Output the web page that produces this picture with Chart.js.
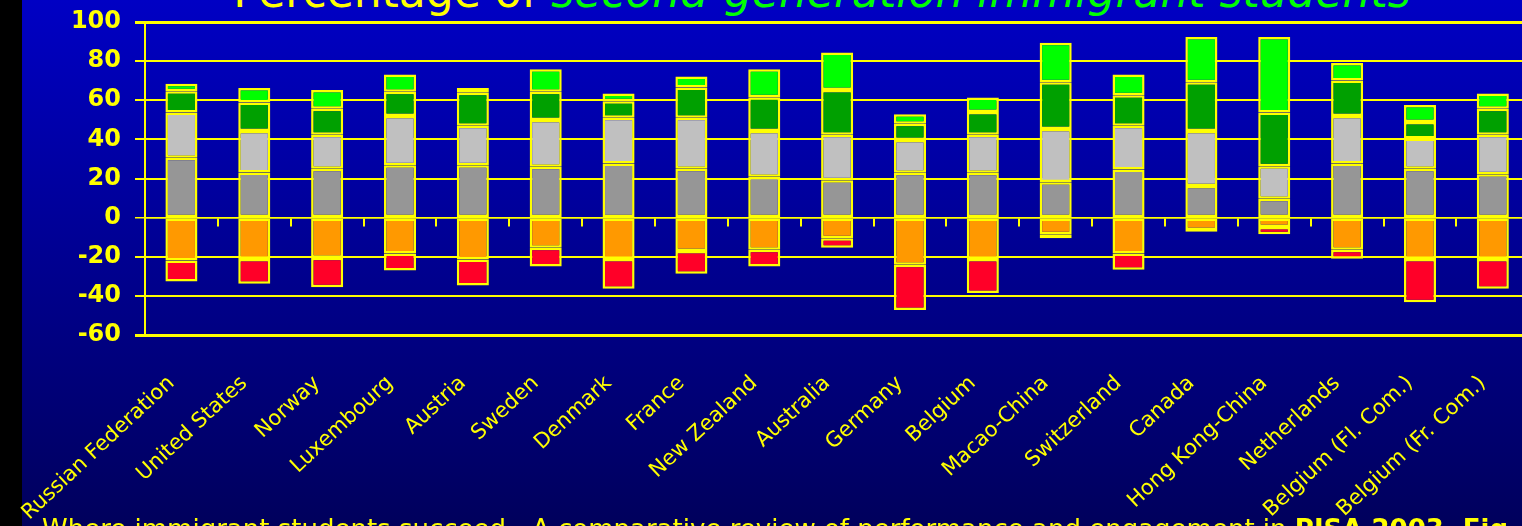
<!DOCTYPE html>
<html>
<head>
<meta charset="utf-8">
<script src="https://cdn.jsdelivr.net/npm/chart.js@4.4.0/dist/chart.umd.min.js"></script>
<style>
  html, body { margin: 0; padding: 0; width: 1522px; height: 526px; overflow: hidden; background: #000; }
  #bg { position: absolute; left: 22px; top: 0; width: 1520px; height: 526px; background: linear-gradient(#0000c4, #00005c); }
  #wrap { position: absolute; left: 0; top: 0; width: 1538px; height: 526px; }
  .title { position: absolute; left: 22px; width: 1600px; top: -30px; text-align: center; white-space: nowrap;
           font: 44px/1 'Comic Sans MS', 'DejaVu Sans', sans-serif; color: #ffff00; }
  .title i { color: #00ff00; }
  .source { position: absolute; left: 42px; top: 516px; white-space: nowrap;
            font: 26px/1 'Comic Sans MS', 'DejaVu Sans', sans-serif; color: #ffff00; }
</style>
</head>
<body>
<div id="bg"></div>
<div class="title">Percentage of <i>second-generation immigrant students</i></div>
<div id="wrap"><canvas id="barChart"></canvas></div>
<div class="source">Where immigrant students succeed - A comparative review of performance and engagement in <b>PISA 2003, Fig</b></div>
<script>
var countries = ['Russian Federation', 'United States', 'Norway', 'Luxembourg', 'Austria', 'Sweden', 'Denmark',
  'France', 'New Zealand', 'Australia', 'Germany', 'Belgium', 'Macao-China', 'Switzerland', 'Canada',
  'Hong Kong-China', 'Netherlands', 'Belgium (Fl. Com.)', 'Belgium (Fr. Com.)'];

// positive part of each bar, bottom to top
var level2 = [30.6, 23.1, 25.0, 26.8, 26.8, 26.0, 27.7, 25.0, 20.9, 19.1, 22.9, 22.9, 18.1, 24.6, 16.2, 9.6, 27.7, 25.0, 22.2];
var level3 = [23.2, 21.2, 17.4, 25.2, 20.2, 23.9, 23.4, 26.1, 23.4, 23.3, 16.8, 19.5, 27.2, 22.4, 28.1, 16.7, 24.3, 15.5, 20.2];
var level4 = [10.8, 14.5, 13.3, 12.4, 16.8, 14.5, 8.4, 15.4, 17.2, 22.9, 8.3, 11.6, 23.9, 15.6, 24.9, 27.5, 18.1, 8.4, 13.3];
var level56 = [3.8, 7.5, 9.6, 8.8, 2.5, 11.5, 3.9, 5.6, 14.4, 19.1, 4.8, 7.4, 20.2, 10.6, 23.1, 38.5, 8.9, 8.7, 7.7];
// negative part, top to bottom
var level1 = [-21.9, -21.2, -20.5, -18.3, -21.4, -15.4, -21.2, -17.1, -16.4, -10.6, -24.1, -21.2, -8.5, -18.3, -6.3, -4.8, -16.4, -21.2, -21.2];
var below1 = [-10.7, -12.6, -15.1, -8.7, -13.3, -9.6, -15.2, -11.6, -8.6, -4.8, -23.1, -17.3, -2.1, -8.4, -0.9, -3.7, -4.6, -22.0, -15.2];

var yellow = '#ffff00';
var font = "'Comic Sans MS', 'DejaVu Sans', sans-serif";

function seg(label, data, color) {
  return {
    label: label, data: data, backgroundColor: color,
    borderColor: yellow, borderWidth: 2.5, borderSkipped: false,
    barPercentage: 0.44, categoryPercentage: 1, xAxisID: 'x'
  };
}

var ctx = document.getElementById('barChart').getContext('2d');
var barChart = new Chart(ctx, {
  type: 'bar',
  data: {
    labels: countries,
    datasets: [
      seg('Level 2', level2, '#969696'),
      seg('Level 3', level3, '#c0c0c0'),
      seg('Level 4', level4, '#00a000'),
      seg('Level 5-6', level56, '#00ff00'),
      seg('Level 1', level1, '#ff9900'),
      seg('Below Level 1', below1, '#ff0028')
    ]
  },
  options: {
    responsive: true,
    maintainAspectRatio: false,
    animation: false,
    layout: { padding: { top: 22, left: 0, right: 0, bottom: 0 } },
    plugins: { legend: { display: false }, tooltip: { enabled: false } },
    scales: {
      x: {
        stacked: true,
        grid: { display: false },
        border: { display: true, color: yellow, width: 3 },
        ticks: { color: yellow, font: { family: font, size: 21 }, maxRotation: 43, minRotation: 43,
                 autoSkip: false, padding: 28, labelOffset: -10 },
        afterFit: function (s) { s.height = 191; }
      },
      x2: {
        type: 'category',
        labels: countries,
        position: { y: 0 },
        offset: true,
        grid: { offset: true, drawOnChartArea: false, drawTicks: true, tickLength: 8, color: yellow, lineWidth: 2 },
        border: { display: true, color: yellow, width: 1.5 },
        ticks: { display: false },
        afterFit: function (s) { s.paddingTop = 0; s.paddingBottom = 0; s.paddingLeft = 0; s.paddingRight = 0; }
      },
      y: {
        stacked: true,
        min: -60, max: 100,
        ticks: { stepSize: 20, color: yellow, font: { family: font, size: 24, weight: 'bold' }, padding: 14 },
        grid: {
          color: yellow, tickLength: 10,
          lineWidth: function (c) { var v = c.tick.value; return (v === 100 || v === -60) ? 3 : (v === 0 ? 1.5 : 2); }
        },
        border: { display: true, color: yellow, width: 2 },
        afterFit: function (s) { s.width = 145; s.paddingTop = 0; s.paddingBottom = 0; }
      }
    }
  }
});
</script>
</body>
</html>
